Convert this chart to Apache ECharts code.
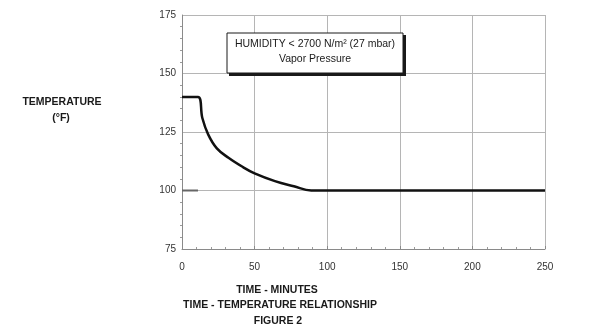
<!DOCTYPE html>
<html>
<head>
<meta charset="utf-8">
<script src="https://cdn.jsdelivr.net/npm/echarts@6/dist/echarts.min.js"></script>
<style>
  html, body { margin: 0; padding: 0; background: #fff; }
  #chart { width: 610px; height: 326px; }
</style>
</head>
<body>
<div id="chart"></div>
<script>
// time (minutes) vs temperature (°F)
const timeMinutes = [0, 11, 14, 18, 24, 32, 42, 50, 64, 77, 89, 100, 150, 200, 250]
const temperatureF = [140, 140, 131, 124, 118, 114, 110, 107.3, 104, 101.8, 100, 100, 100, 100, 100]
// short dark stroke on the 100 gridline near the origin
const stubTime = [0, 11]
const stubTemp = [100, 100]

const xTicks = [0, 50, 100, 150, 200, 250]
const yTicks = [75, 100, 125, 150, 175]

const toPairs = (xs, ys) => xs.map((x, i) => [x, ys[i]])

const chart = echarts.init(document.getElementById('chart'))

const boldText = (text, x, y) => ({
  type: 'text', x: x, y: y,
  style: {
    text: text, align: 'center', verticalAlign: 'middle',
    fontSize: 10.5, fontWeight: 'bold', fontFamily: 'Liberation Sans, Arial', fill: '#1a1a1a',
  },
})

const option = {
  animation: false,
  backgroundColor: '#fff',
  grid: {left: 182, right: 65, top: 15, bottom: 77},
  xAxis: {
    type: 'value',
    min: xTicks[0],
    max: xTicks[xTicks.length - 1],
    interval: 50,
    axisLine: {lineStyle: {color: '#8a8a8a', width: 1}},
    axisTick: {show: true, inside: true, length: 3, lineStyle: {color: '#8a8a8a'}},
    minorTick: {show: true, splitNumber: 5, length: 2, lineStyle: {color: '#9a9a9a'}},
    splitLine: {show: true, lineStyle: {color: '#b5b5b5', width: 1}},
    axisLabel: {color: '#333', fontSize: 10, fontFamily: 'Liberation Sans, Arial', margin: 13},
  },
  yAxis: {
    type: 'value',
    min: yTicks[0],
    max: yTicks[yTicks.length - 1],
    interval: 25,
    axisLine: {show: true, lineStyle: {color: '#8a8a8a', width: 1}},
    axisTick: {show: false},
    minorTick: {show: true, splitNumber: 5, length: 2, lineStyle: {color: '#9a9a9a'}},
    splitLine: {show: true, lineStyle: {color: '#b5b5b5', width: 1}},
    axisLabel: {color: '#333', fontSize: 10, fontFamily: 'Liberation Sans, Arial', margin: 6},
  },
  graphic: [
    boldText('TEMPERATURE', 62, 102),
    boldText('(°F)', 61, 118),
    boldText('TIME - MINUTES', 277, 290),
    boldText('TIME - TEMPERATURE RELATIONSHIP', 280, 305),
    boldText('FIGURE 2', 278, 321),
    // annotation box with a heavy shadow at bottom/right
    {
      type: 'rect', shape: {x: 229, y: 35, width: 177, height: 41},
      style: {fill: '#1a1a1a'}, z: 10,
    },
    {
      type: 'rect', shape: {x: 227, y: 33, width: 176, height: 40},
      style: {fill: '#fff', stroke: '#1a1a1a', lineWidth: 1}, z: 11,
    },
    {
      type: 'text', x: 315, y: 44, z: 12,
      style: {text: 'HUMIDITY < 2700 N/m² (27 mbar)', align: 'center', verticalAlign: 'middle',
        fontSize: 10.5, fontFamily: 'Liberation Sans, Arial', fill: '#1a1a1a'},
    },
    {
      type: 'text', x: 315, y: 59, z: 12,
      style: {text: 'Vapor Pressure', align: 'center', verticalAlign: 'middle',
        fontSize: 10.5, fontFamily: 'Liberation Sans, Arial', fill: '#1a1a1a'},
    },
  ],
  series: [
    {
      type: 'line',
      data: toPairs(stubTime, stubTemp),
      showSymbol: false,
      lineStyle: {color: '#666', width: 2},
      z: 3,
    },
    {
      type: 'line',
      data: toPairs(timeMinutes, temperatureF),
      smooth: 0.4,
      showSymbol: false,
      lineStyle: {color: '#111', width: 2.5},
      z: 4,
    },
  ],
}

chart.setOption(option)
</script>
</body>
</html>
